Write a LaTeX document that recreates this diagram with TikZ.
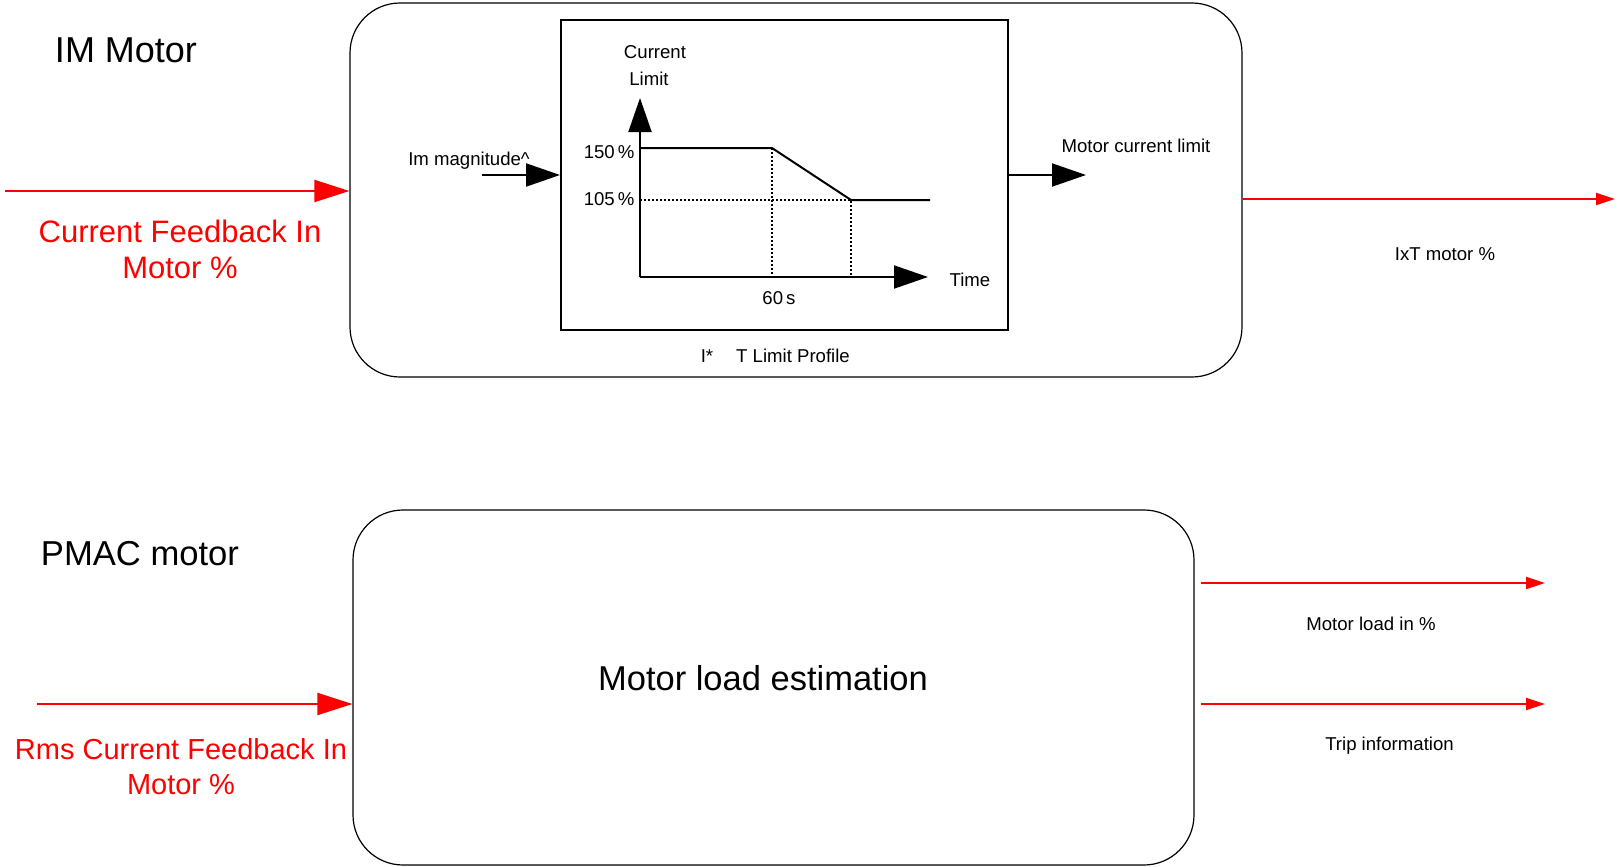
\documentclass[tikz,border=0pt]{standalone}
\usepackage{fontspec}
\setmainfont{Liberation Sans}
\usepackage{tikz}
\usetikzlibrary{calc}
\usetikzlibrary{arrows.meta}

\begin{document}
\begin{tikzpicture}[x=1pt,y=-1pt,
		smalltxt/.style={anchor=base,font=\fontsize{18.6}{22}\selectfont},
		redtxt/.style={anchor=base,align=center,text=red},
		roundbox/.style={draw,line width=1.2pt,rounded corners=50pt},
		redin/.style={red,line width=2pt,-{Triangle[length=35pt,width=22pt]}},
		redout/.style={red,line width=2pt,-{Triangle[length=19pt,width=12pt]}},
		blkarrow/.style={line width=2pt,-{Triangle[length=34pt,width=23pt]}},
		dotline/.style={line width=1.5pt,dash pattern=on 1.5pt off 2.5pt}]
		\useasboundingbox (0,0) rectangle (1618,867);
		% IM motor
		\node[roundbox,minimum width=892pt,minimum height=374pt] (imbox) at (796,190) {};
		\node[draw,line width=2pt,minimum width=447pt,minimum height=310pt] (profile) at (784.5,175) {};
		\node[anchor=base,font=\fontsize{36}{43}\selectfont] (imtitle) at (126,63) {IM Motor};
		\node[redtxt,font=\fontsize{31}{36}\selectfont] (cflbl) at (180,278) {Current Feedback In\\Motor \%};
		\coordinate (cfin) at (5,191);
		\draw[redin] (cfin) -- (cfin -| imbox.west);
		\coordinate (imin) at (482,175);
		\draw[blkarrow] (imin) -- (profile.west);
		\node[smalltxt] (imlbl) at (469,165) {Im magnitude\textasciicircum};
		\coordinate (limout) at (1086,175);
		\draw[blkarrow] (profile.east) -- (limout);
		\node[smalltxt] (limlbl) at (1136,152.5) {Motor current limit};
		\coordinate (ixtout) at (1615,199);
		\draw[redout] (ixtout -| imbox.east) -- (ixtout);
		\node[smalltxt] (ixtlbl) at (1445,260.5) {IxT motor \%};
		% limit profile
		\coordinate (o) at (640,277);
		\coordinate (ytip) at (640,98);
		\coordinate (xtip) at (928,277);
		\coordinate (knee) at (772,148);
		\coordinate (low) at (851,200);
		\coordinate (tail) at (930,200);
		\draw[blkarrow] (o) -- (ytip);
		\draw[blkarrow] (o) -- (xtip);
		\draw[line width=2pt] (o |- knee) -- (knee) -- (low) -- (tail);
		\draw[dotline] (o |- low) -- (low) -- (low |- o);
		\draw[dotline] (knee) -- (knee |- o);
		\node[smalltxt,anchor=base east] (hilbl) at (638,158.5) {150\,\%};
		\node[smalltxt,anchor=base east] (lolbl) at (638,205.5) {105\,\%};
		\node[smalltxt] (curlbl) at (655,59) {Current};
		\node[smalltxt] (limitlbl) at (649,85) {Limit};
		\node[smalltxt] (timelbl) at (970,286) {Time};
		\node[smalltxt] (seclbl) at (779,304) {60\,s};
		\node[smalltxt] (ilbl) at (707,362.5) {I*};
		\node[smalltxt] (proflbl) at (793,362.5) {T Limit Profile};
		% PMAC motor
		\node[roundbox,minimum width=841pt,minimum height=355pt] (loadbox) at (773.5,687.5) {};
		\node[anchor=base,font=\fontsize{34.6}{41}\selectfont] (pmactitle) at (140,565) {PMAC motor};
		\node[anchor=base,font=\fontsize{34.5}{41}\selectfont] (loadlbl) at (763,690) {Motor load estimation};
		\node[redtxt,font=\fontsize{29}{35}\selectfont] (rmslbl) at (181,794) {Rms Current Feedback In\\Motor \%};
		\coordinate (rmsin) at (37,704);
		\draw[redin] (rmsin) -- (rmsin -| loadbox.west);
		\coordinate (loadout) at (1545,583);
		\coordinate (tripout) at (1545,704);
		\draw[redout] ($(loadout -| loadbox.east)+(6,0)$) -- (loadout);
		\draw[redout] ($(tripout -| loadbox.east)+(6,0)$) -- (tripout);
		\node[smalltxt] (loadpct) at (1371,630) {Motor load in \%};
		\node[smalltxt] (triplbl) at (1389.5,750) {Trip information};
	\end{tikzpicture}
\end{document}
